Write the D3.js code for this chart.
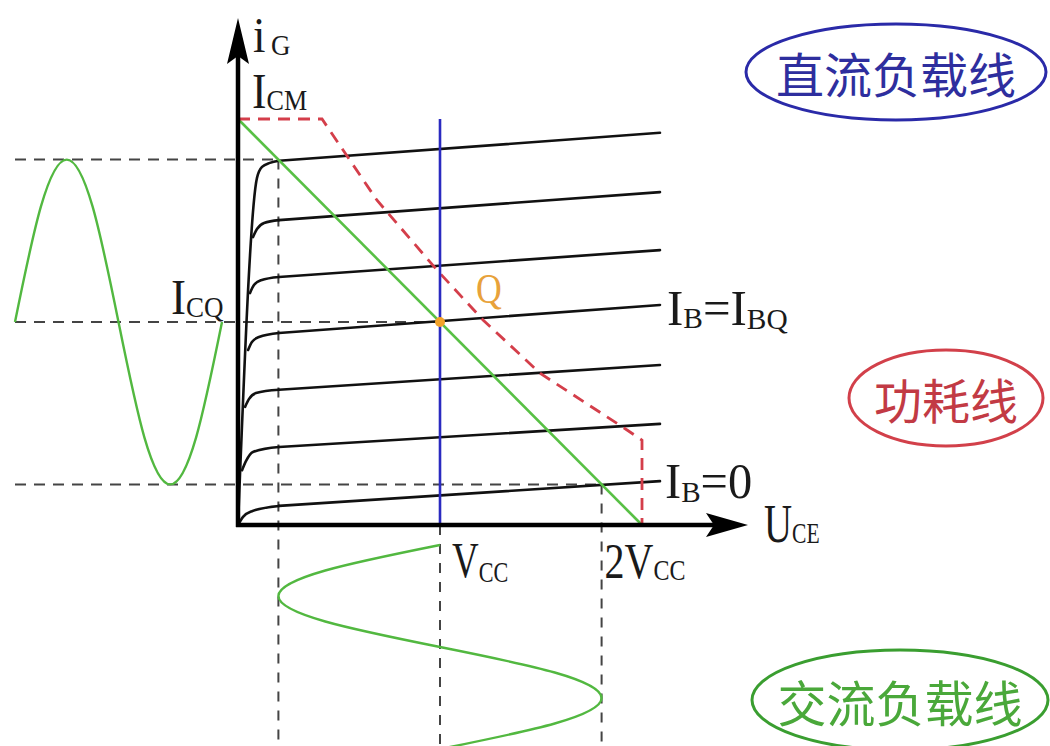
<!DOCTYPE html>
<meta charset="utf-8">
<style>
  body { margin: 0; background: #fff; }
  svg { display: block; }
  .lbl { font-family: "Liberation Serif", "Times New Roman", serif; fill: #1a1a1a; }
  .cjk { font-family: "Noto Sans CJK SC", sans-serif; font-weight: 400; }
</style>
<body>
<div id="chart"></div>
<script src="https://d3js.org/d3.v7.min.js"></script>
<script>
// --- values (U_CE in units of V_CC, i_C in units where I_CM = 10) ---
const vcc = 1;
const uLow = 0.2, uHigh = 1.8;          // swing limits on the U_CE axis
const icq = 5, icm = 10;
const iPeak = 9, iTrough = 1;           // swing limits on the i_C axis
const loadLine = [[0, 10], [2, 0]];     // AC load line
const powerLine = [[0, 10], [0.416, 10], [0.688, 8.0], [0.985, 6.28], [1.213, 5.05],
                   [1.495, 3.74], [1.926, 2.34], [2.0, 2.09], [2.0, 0]];
// output characteristics, top curve first; last one is I_B = 0
const outputCurves = [
  [[0, 0], [0.094, 8.55], [0.119, 8.82], [0.158, 8.92], [0.203, 8.97], [2.089, 9.66]],
  [[0.074, 7.09], [0.094, 7.29], [0.129, 7.44], [0.203, 7.51], [2.089, 8.20]],
  [[0.059, 5.71], [0.079, 5.91], [0.114, 6.03], [0.203, 6.11], [2.089, 6.77]],
  [[0.050, 4.31], [0.069, 4.51], [0.104, 4.63], [0.203, 4.73], [2.089, 5.42]],
  [[0.035, 2.91], [0.054, 3.10], [0.089, 3.25], [0.203, 3.33], [2.089, 3.94]],
  [[0.020, 1.35], [0.040, 1.58], [0.074, 1.80], [0.203, 1.92], [2.089, 2.49]],
  [[0, 0], [0.025, 0.20], [0.069, 0.34], [0.203, 0.47], [2.089, 1.08]]
];
const qCurve = 3, zeroCurve = 6;
// one period of the signal waveforms
const sinePhase = [0, 0.125, 0.25, 0.375, 0.5, 0.625, 0.75, 0.875, 1];
const sineValue = [0, 0.71, 1, 0.71, 0, -0.71, -1, -0.71, 0];
const legendNames = ["直流负载线", "功耗线", "交流负载线"];

const width = 1050, height = 746;
const svg = d3.select("#chart").append("svg").attr("width", width).attr("height", height);

const x = d3.scaleLinear().domain([0, 1]).range([238, 440]);
const y = d3.scaleLinear().domain([0, 10]).range([525, 119]);
const tLeft = d3.scaleLinear().domain([0, 1]).range([15, 222]);   // time, left waveform
const tDown = d3.scaleLinear().domain([0, 1]).range([545, 749]);  // time, bottom waveform

const axisTop = 18, axisRight = 748;
const wave = sinePhase.map((t, k) => [t, sineValue[k]]);

// dashed guide lines
const guides = svg.append("g").attr("stroke", "#444").attr("stroke-width", 2)
  .attr("stroke-dasharray", "11,8").attr("fill", "none");
[[iPeak, uLow], [icq, vcc], [iTrough, uHigh]].forEach(([i, u]) => {
  guides.append("line").attr("x1", tLeft(0)).attr("x2", x(u)).attr("y1", y(i)).attr("y2", y(i));
});
[[uLow, iPeak], [vcc, 0], [uHigh, iTrough]].forEach(([u, i]) => {
  guides.append("line").attr("x1", x(u)).attr("x2", x(u)).attr("y1", y(i)).attr("y2", height)
    .attr("stroke-dasharray", "10,9");
});

// signal waveforms
svg.append("path").datum(wave)
  .attr("d", d3.line().x(d => tLeft(d[0])).y(d => y(icq + (iPeak - icq) * d[1])).curve(d3.curveNatural))
  .attr("fill", "none").attr("stroke", "#52b840").attr("stroke-width", 2.4);
svg.append("path").datum(wave)
  .attr("d", d3.line().x(d => x(vcc - (vcc - uLow) * d[1])).y(d => tDown(d[0])).curve(d3.curveNatural))
  .attr("fill", "none").attr("stroke", "#52b840").attr("stroke-width", 2.4);

// output characteristic curves: rounded knee, then a straight run
const kneeLine = d3.line().x(d => x(d[0])).y(d => y(d[1])).curve(d3.curveMonotoneX);
const runLine = d3.line().x(d => x(d[0])).y(d => y(d[1]));
const curves = svg.append("g").attr("fill", "none").attr("stroke", "#111").attr("stroke-width", 2.6)
  .attr("stroke-linecap", "round");
curves.selectAll(".knee").data(outputCurves).join("path").attr("class", "knee")
  .attr("d", d => kneeLine(d.slice(0, -1)));
curves.selectAll(".run").data(outputCurves).join("path").attr("class", "run")
  .attr("d", d => runLine(d.slice(-2)));

// AC load line
svg.append("path").datum(loadLine).attr("d", d3.line().x(d => x(d[0])).y(d => y(d[1])))
  .attr("stroke", "#58c045").attr("stroke-width", 2.6);

// power dissipation limit
svg.append("path").datum(powerLine).attr("d", d3.line().x(d => x(d[0])).y(d => y(d[1])))
  .attr("fill", "none").attr("stroke", "#d43e4a").attr("stroke-width", 2.8)
  .attr("stroke-dasharray", "12,8");

// DC line at V_CC
svg.append("line").attr("x1", x(vcc)).attr("x2", x(vcc)).attr("y1", y(icm)).attr("y2", y(0))
  .attr("stroke", "#2a2ac0").attr("stroke-width", 2.6);

// Q point
svg.append("circle").attr("cx", x(vcc)).attr("cy", y(icq)).attr("r", 5).attr("fill", "#f2a22a");

// axes with arrows
svg.append("line").attr("x1", x(0)).attr("x2", x(0)).attr("y1", y(0) + 2).attr("y2", axisTop + 20)
  .attr("stroke", "#000").attr("stroke-width", 4.5);
svg.append("line").attr("x1", x(0) - 2).attr("x2", axisRight - 20).attr("y1", y(0)).attr("y2", y(0))
  .attr("stroke", "#000").attr("stroke-width", 4.5);
svg.append("path").attr("fill", "#000")
  .attr("d", `M${x(0)},${axisTop} L${x(0) + 11},${axisTop + 46} L${x(0)},${axisTop + 38} L${x(0) - 11},${axisTop + 46}Z`);
svg.append("path").attr("fill", "#000")
  .attr("d", `M${axisRight},${y(0)} L${axisRight - 42},${y(0) - 12} L${axisRight - 34},${y(0)} L${axisRight - 42},${y(0) + 12}Z`);

// text labels: one <text> per label, parts are [text, fontSize, baselineShift, gapBefore]
function label(x0, y0, sx, parts, color) {
  const t = svg.append("text").attr("class", "lbl")
    .attr("transform", `translate(${x0},${y0}) scale(${sx},1)`)
    .style("fill", color || null);
  let prev = 0;
  parts.forEach(([s, size, shift, gap]) => {
    t.append("tspan").attr("font-size", size).attr("dy", (shift || 0) - prev)
      .attr("dx", gap || 0).text(s);
    prev = shift || 0;
  });
}
label(x(0) + 15, 52, 0.9, [["i", 50], ["G", 30, 3, 6]]);
label(x(0) + 14, y(icm) - 11, 0.87, [["I", 50], ["CM", 30, 2]]);
label(x(0) - 67, y(icq) - 8, 0.9, [["I", 50], ["CQ", 30, 3]]);
const qEnd = outputCurves[qCurve][outputCurves[qCurve].length - 1];
label(x(qEnd[0]) + 7, y(qEnd[1]) + 20, 0.98, [["I", 50], ["B", 30, 3], ["=", 50, 0], ["I", 50], ["BQ", 30, 4]]);
const zEnd = outputCurves[zeroCurve][outputCurves[zeroCurve].length - 1];
label(x(zEnd[0]) + 5, y(zEnd[1]) + 17, 0.97, [["I", 50], ["B", 30, 4], ["=", 50, 0], ["0", 50]]);
label(axisRight + 16, y(0) + 17, 0.72, [["U", 54], ["CE", 30, 1]]);
label(x(vcc) + 12, y(0) + 52, 0.74, [["V", 50], ["CC", 30, 5]]);
label(x(uHigh) + 3, y(0) + 53, 0.8, [["2", 50], ["V", 50], ["CC", 30, 2]]);
label(x(vcc) + 36, y(icq) - 19, 0.85, [["Q", 42]], "#e8a23a");

// legend ellipses
const legends = [
  { cx: 896, cy: 72, rx: 150, ry: 48, ink: "#2a2aa8", text: "#2e2e9e", size: 48 },
  { cx: 946, cy: 398, rx: 97, ry: 48, ink: "#d2404a", text: "#c23a44", size: 48 },
  { cx: 900, cy: 700, rx: 148, ry: 50, ink: "#3a9e30", text: "#4aa83a", size: 49 }
];
legends.forEach((g, k) => {
  svg.append("ellipse").attr("cx", g.cx).attr("cy", g.cy).attr("rx", g.rx).attr("ry", g.ry)
    .attr("fill", "none").attr("stroke", g.ink).attr("stroke-width", 3);
  svg.append("text").attr("class", "cjk").attr("x", g.cx).attr("y", g.cy)
    .attr("text-anchor", "middle").attr("dominant-baseline", "central")
    .attr("font-size", g.size).style("fill", g.text).text(legendNames[k]);
});
</script>
</body>
